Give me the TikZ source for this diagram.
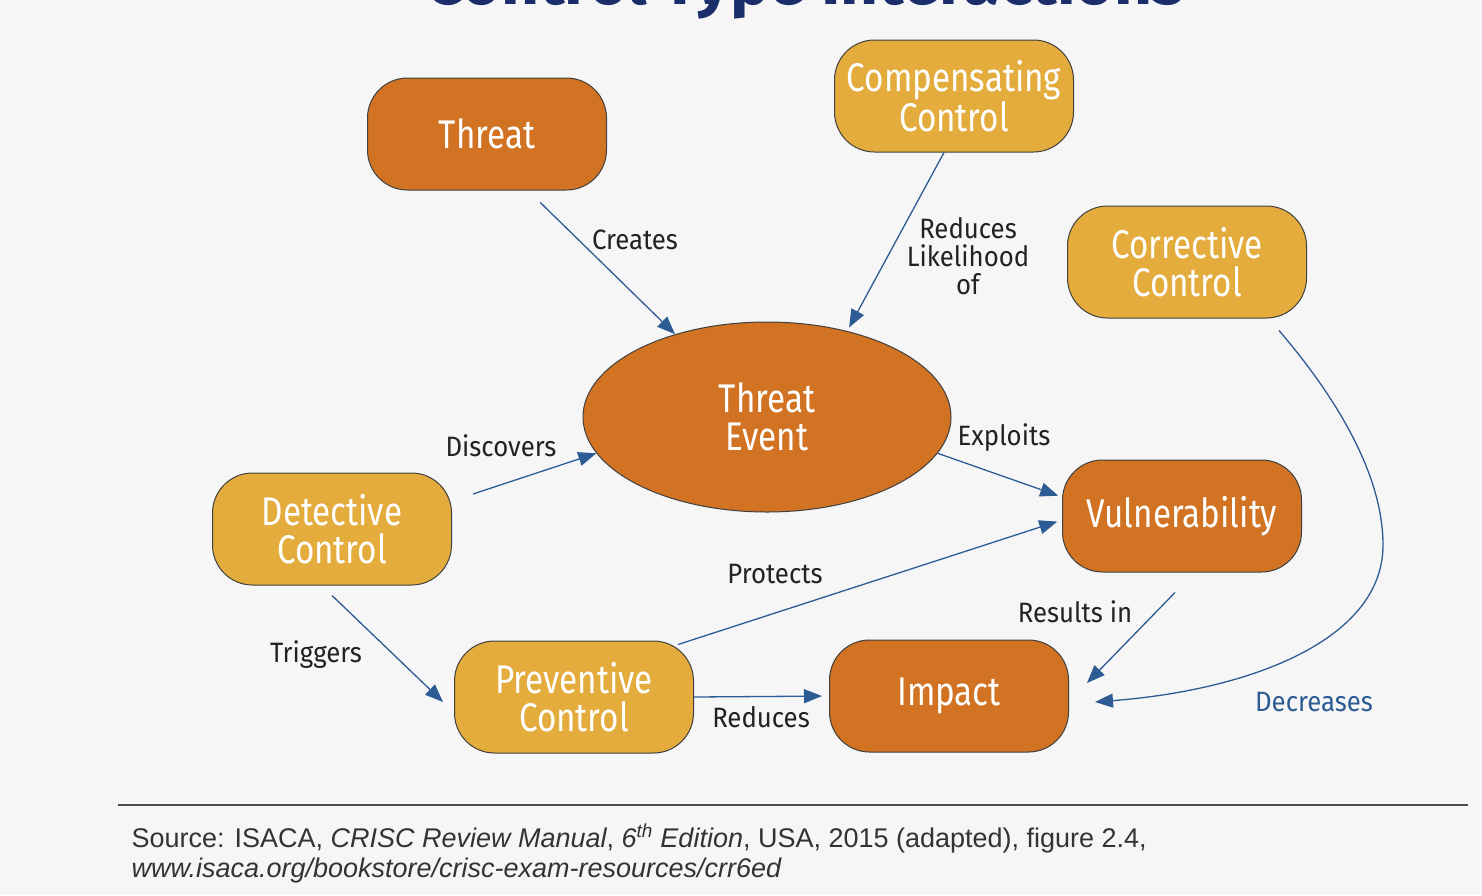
\documentclass[tikz,border=0pt]{standalone}
\usepackage{fontspec}
\setmainfont{Fira Sans}
\newfontfamily\condfont[FakeStretch=0.83]{Fira Sans}
\newfontfamily\verbfont[FakeStretch=0.92]{Fira Sans}
\newfontfamily\srcfont{Liberation Sans}
\usetikzlibrary{arrows.meta,shapes.geometric,calc}
\definecolor{threatorange}{HTML}{D17322}
\definecolor{controlgold}{HTML}{E3AC3C}
\definecolor{linkblue}{HTML}{2D5B94}
\definecolor{titlenavy}{HTML}{1B2E6C}
\definecolor{labelink}{HTML}{222222}
\definecolor{paper}{HTML}{F6F6F6}

\begin{document}
\begin{tikzpicture}[
  x=1pt, y=-1pt,
  >={Triangle[length=18pt,width=14pt]},
  box/.style={draw=black!75, line width=1pt, rounded corners=40pt,
    minimum width=239pt, minimum height=112pt, align=center,
    text=white, font=\condfont\fontsize{40}{38}\selectfont},
  threatbox/.style={box, fill=threatorange},
  controlbox/.style={box, fill=controlgold},
  link/.style={->, linkblue, line width=1.3pt},
  verb/.style={text=labelink, align=center,
    font=\verbfont\fontsize{28}{28}\selectfont},
  srcnote/.style={anchor=base west, text=black!80,
    font=\srcfont\fontsize{27}{31}\selectfont}
]
  % Page
  \useasboundingbox (0,0) rectangle (1482,895);
  \fill[paper] (0,0) rectangle (1482,895);
  \node[anchor=base, text=titlenavy, font=\bfseries\fontsize{66}{66}\selectfont]
    (title) at (805,4) {Control Type Interactions};

  % Risk elements
  \node[threatbox] (threat) at (487,134) {Threat};
  \node[ellipse, draw=black!75, line width=1pt, fill=threatorange,
    minimum width=368pt, minimum height=190pt, inner sep=0pt, align=center,
    text=white, font=\condfont\fontsize{40}{38}\selectfont]
    (tevent) at (767,417) {Threat\\Event};
  \node[threatbox] (vuln) at (1182,516) {Vulnerability};
  \node[threatbox] (impact) at (949,696) {Impact};

  % Controls
  \node[controlbox] (comp) at (954,96) {Compensating\\Control};
  \node[controlbox] (corr) at (1187,262) {Corrective\\Control};
  \node[controlbox] (det) at (332,529) {Detective\\Control};
  \node[controlbox] (prev) at (574,697) {Preventive\\Control};

  % Connectors
  \draw[link, shorten <=17pt] ([xshift=41pt]threat.south) -- (tevent.138);
  \draw[link, shorten >=4pt] ([xshift=-10pt]comp.south) -- (tevent.47);
  \draw[link, shorten >=4pt] (tevent.-12) -- ([yshift=19pt]vuln.west);
  \draw[link, shorten >=5pt] ([shift={(-16pt,-4pt)}]prev.north east)
    -- ([yshift=-4pt]vuln.west);
  \draw[link] ([shift={(21pt,35pt)}]det.east) -- (tevent.192);
  \draw[link] ([yshift=-10pt]det.south) -- ([shift={(-11pt,-5pt)}]prev.west);
  \draw[link, shorten >=7pt] (prev.east) -- (impact.west);
  \draw[link] ([shift={(-7pt,-20pt)}]vuln.south)
    -- ([shift={(18pt,13pt)}]impact.east);
  \draw[link] ([shift={(92pt,-12pt)}]corr.south)
    .. controls (1330,390) and (1383,470) .. (1383,545)
    .. controls (1383,640) and (1250,690) .. ([shift={(26pt,-6pt)}]impact.east);

  % Connector labels
  \node[verb] (creates) at (635,240) {Creates};
  \node[verb] (reduceslh) at (968,256) {Reduces\\Likelihood\\of};
  \node[verb] (exploits) at (1004,438) {Exploits};
  \node[verb] (discovers) at (501,446) {Discovers};
  \node[verb] (protects) at (775,574) {Protects};
  \node[verb] (resultsin) at (1075,612) {Results in};
  \node[verb] (triggers) at (316,655) {Triggers};
  \node[verb] (reduces) at (761,717) {Reduces};
  \node[verb, text=linkblue] (decreases) at (1314,702) {Decreases};

  % Source note
  \draw[black!70, line width=1.5pt] (118,805) -- (1468,805);
  \node[srcnote] (source) at (128,847) {Source: ISACA, \textit{CRISC Review Manual},
    \textit{6\textsuperscript{th} Edition}, USA, 2015 (adapted), figure 2.4,};
  \node[srcnote] (sourceurl) at (128,877)
    {\textit{www.isaca.org/bookstore/crisc-exam-resources/crr6ed}};
\end{tikzpicture}
\end{document}
